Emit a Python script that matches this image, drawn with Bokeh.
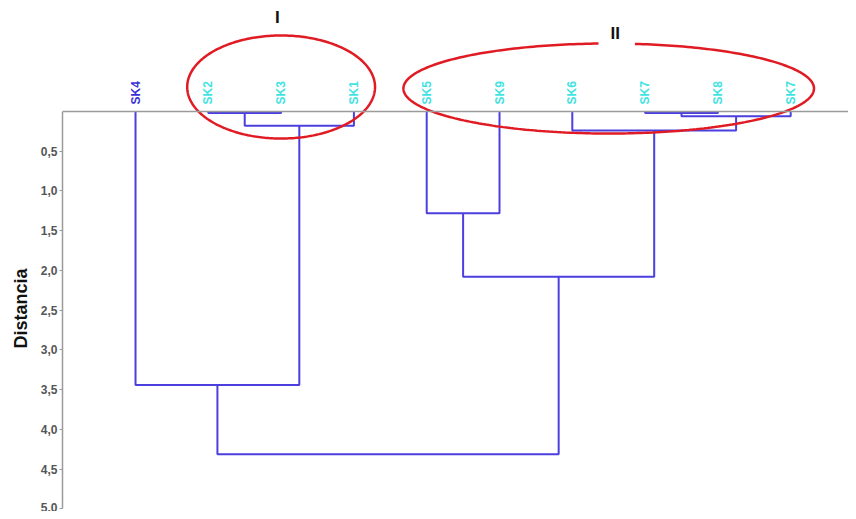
import numpy as np
from bokeh.plotting import figure
from bokeh.models import ColumnDataSource, Range1d, FixedTicker, Span, Title
from bokeh.core.properties import value
from bokeh.embed import file_html
from bokeh.resources import INLINE

# ---------------- data ----------------
leaves = ["SK4", "SK2", "SK3", "SK1", "SK5", "SK9", "SK6", "SK7", "SK8", "SK7"]
leaf_colors = ["#3a2fd6", "#3fe3e3", "#3fe3e3", "#3fe3e3", "#3fe3e3",
               "#3fe3e3", "#3fe3e3", "#3fe3e3", "#3fe3e3", "#3fe3e3"]
# merges: (left node, right node, distance); nodes 0..9 are leaves, 10.. clusters
merge_left = [1, 7, 11, 10, 6, 4, 15, 0, 17]
merge_right = [2, 8, 9, 3, 12, 5, 14, 13, 16]
merge_height = [0.02, 0.02, 0.06, 0.18, 0.24, 1.28, 2.08, 3.44, 4.31]
tick_values = [0.5, 1.0, 1.5, 2.0, 2.5, 3.0, 3.5, 4.0, 4.5, 5.0]
tick_labels = ["0,5", "1,0", "1,5", "2,0", "2,5", "3,0", "3,5", "4,0", "4,5", "5,0"]
axis_title = "Distancia"
groups = ["I", "II"]
group_members = [[1, 2, 3], [4, 5, 6, 7, 8, 9]]

# ---------------- figure ----------------
p = figure(width=848, height=511, output_backend="svg", toolbar_location=None,
           x_range=Range1d(-1.003, 9.794), y_range=Range1d(5.019, -1.396),
           x_axis_location=None, min_border_left=62, min_border_right=0,
           min_border_top=0, min_border_bottom=1)
p.outline_line_color = None
p.grid.visible = False
p.background_fill_color = "white"
p.border_fill_color = "white"

# top base line
p.add_layout(Span(location=0, dimension="width", line_color="#9a9a9a", line_width=1.5))

# y axis
ax = p.yaxis[0]
ax.ticker = FixedTicker(ticks=tick_values)
ax.major_label_overrides = {v: s for v, s in zip(tick_values, tick_labels)}
ax.bounds = (0, 5.0)
ax.axis_line_color = "#9a9a9a"
ax.axis_line_width = 1.5
ax.major_tick_line_color = "#9a9a9a"
ax.major_tick_out = 3
ax.major_tick_in = 0
ax.minor_tick_line_color = None
ax.major_label_text_font = "Liberation Sans"
ax.major_label_text_font_style = "bold"
ax.major_label_text_font_size = "12px"
ax.major_label_text_color = "#555555"
ax.major_label_standoff = 2

# axis title as a left-side title, placed at the axis' own extent
p.add_layout(Title(text=axis_title, align="left", offset=162, standoff=14,
                   text_font="Liberation Sans", text_font_style="bold",
                   text_font_size="18px", text_color="#111111"), "left")

# dendrogram geometry
node_x = list(range(len(leaves)))
node_h = [0.0] * len(leaves)
xs, ys = [], []
for l, r, h in zip(merge_left, merge_right, merge_height):
    xl, xr = node_x[l], node_x[r]
    xs.append([xl, xl, xr, xr])
    ys.append([node_h[l], h, h, node_h[r]])
    node_x.append((xl + xr) / 2)
    node_h.append(h)
p.multi_line(xs=xs, ys=ys, line_color="#4b3fe0", line_width=2)

# leaf labels
src = ColumnDataSource(dict(x=list(range(len(leaves))), y=[-0.088] * len(leaves),
                            t=leaves, c=leaf_colors))
p.text(x="x", y="y", text="t", text_color="c", source=src, angle=np.pi / 2,
       text_align="left", text_baseline="middle",
       text_font=value("Liberation Sans"), text_font_style="bold",
       text_font_size="12px")

# group ellipses
ell_params = [  # (half-width pad, cy, semi-height, label y, gap)
    (0.29, -0.308, 0.648, -1.18, False),
    (0.32, -0.289, 0.566, -0.98, True),
]
ex, ey, lx, ly = [], [], [], []
for members, (pad, cy, b, lab_y, gap) in zip(group_members, ell_params):
    cx = (min(members) + max(members)) / 2
    a = (max(members) - min(members)) / 2 + pad
    lab_x = cx + (0.09 if gap else -0.05)
    if gap:
        t1 = np.arccos(np.clip((lab_x + 0.27 - cx) / a, -1, 1))
        t2 = np.arccos(np.clip((lab_x - 0.23 - cx) / a, -1, 1))
        t = np.linspace(t2, t1 + 2 * np.pi, 300)
    else:
        t = np.linspace(0, 2 * np.pi, 300)
    ex.append(list(cx + a * np.cos(t)))
    ey.append(list(cy - b * np.sin(t)))
    lx.append(lab_x)
    ly.append(lab_y)
p.multi_line(xs=ex, ys=ey, line_color="#e01b24", line_width=2.5)
p.text(x=lx, y=ly, text=groups, text_align="center", text_baseline="middle",
       text_font=value("Liberation Sans"), text_font_style="bold",
       text_font_size="17px", text_color="#111111")

open("out.html", "w").write(file_html(p, INLINE))
